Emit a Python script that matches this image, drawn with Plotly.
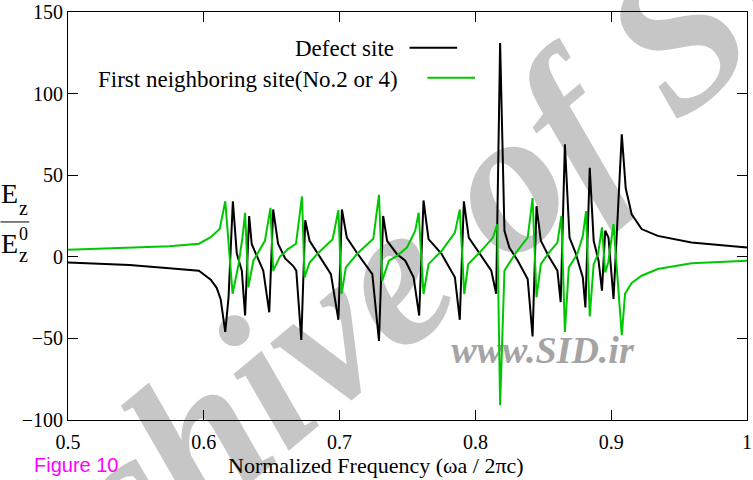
import plotly.graph_objects as go

# ---- data ----
defect_x = [0.5, 0.5453, 0.5745, 0.5964, 0.6051, 0.6095, 0.6124, 0.6158, 0.6182, 0.6214,
            0.6243, 0.6280, 0.6304, 0.6334, 0.6353, 0.6401, 0.6438, 0.6482, 0.6511, 0.6547,
            0.6599, 0.6657, 0.6681, 0.6718, 0.6747, 0.6779, 0.6839, 0.6936, 0.6991, 0.7017,
            0.7053, 0.7131, 0.7241, 0.7290, 0.7321, 0.7350, 0.7423, 0.7484, 0.7545, 0.7586,
            0.7618, 0.7655, 0.7752, 0.7849, 0.7885, 0.7915, 0.7951, 0.8031, 0.8117, 0.8153,
            0.8182, 0.8214, 0.8250, 0.8312, 0.8385, 0.8421, 0.8450, 0.8482, 0.8542, 0.8604,
            0.8628, 0.8659, 0.8693, 0.8737, 0.8791, 0.8810, 0.8842, 0.8871, 0.8907, 0.8932,
            0.8956, 0.8980, 0.9017, 0.9078, 0.9107, 0.9151, 0.9224, 0.9343, 0.9591, 1.0]
defect_y = [-3.5, -5, -7, -8.5, -14, -19, -26, -46, -25, 34,
            2, -8.5, -36, 25, 7.7, -2, -8.5, -34, 29, 8,
            -1, -5.5, -8.5, -51, 22.4, 9.8, 2, -10.6, -38.6, 29,
            11.8, 2, -10.6, -51.6, 25, 9.8, 1.6, -2.4, -12.6, -36,
            34.5, 10.8, 1.6, -12.6, -38.6, 34, 11.8, 2, -8.5, -22.6,
            131, 15.9, 5.7, -2.4, -13.6, -48.8, 31, 9.8, 0, -8.5,
            -27.8, 69, 11.8, 2.6, -12.6, -31, 54.5, 9.8, -2.4, -20.7,
            16, 11.8, -25.8, 75, 42, 26, 17, 12.8, 8.7, 5.7]

neighbor_x = [0.5, 0.5453, 0.5745, 0.5964, 0.6051, 0.6117, 0.6158, 0.6212, 0.6255, 0.6285,
              0.6304, 0.6328, 0.6365, 0.6450, 0.6491, 0.6511, 0.6560, 0.6620, 0.6679, 0.6723,
              0.6742, 0.6779, 0.6839, 0.6949, 0.6991, 0.7015, 0.7046, 0.7131, 0.7248, 0.7290,
              0.7314, 0.7363, 0.7423, 0.7496, 0.7557, 0.7582, 0.7618, 0.7655, 0.7752, 0.7849,
              0.7885, 0.7918, 0.7947, 0.8031, 0.8129, 0.8161, 0.8182, 0.8214, 0.8299, 0.8385,
              0.8421, 0.8450, 0.8482, 0.8542, 0.8604, 0.8633, 0.8659, 0.8688, 0.8750, 0.8791,
              0.8815, 0.8842, 0.8871, 0.8903, 0.8932, 0.8956, 0.8978, 0.9017, 0.9078, 0.9102,
              0.9151, 0.9224, 0.9343, 0.9591, 1.0]
neighbor_y = [4.3, 5.5, 6.5, 8, 12, 17, 34, -22.6, -5, 12,
              27, -18.7, -2.4, 9.8, 30, -8.5, 0, 4.7, 8, 37,
              -12.6, -3.5, 2, 10.8, 28.7, -22.7, -6.5, 2, 11, 38,
              -14.6, -2.4, 0.6, 5.7, 16, 27, -22.8, -4.5, 3.7, 14.8,
              29, -22.8, -4.5, 2.6, 11.8, 20, -91, -8.5, 2.6, 11.8,
              36, -24.8, -4.5, 2.6, 8.7, 25, -46, -6.5, 1.6, 12.8,
              28, -36.6, -4.5, 1.6, 18, -9.6, -3.5, 20, -48, -22.6,
              -16, -11.6, -7.5, -4, -2.4]

x_ticks = [0.5, 0.6, 0.7, 0.8, 0.9, 1.0]
x_tick_labels = ["0.5", "0.6", "0.7", "0.8", "0.9", "1"]
y_ticks = [-100, -50, 0, 50, 100, 150]

# ---- layout geometry (pixels) ----
W, H = 753, 480
L, R, T, B = 68, 1, 10, 60
PW, PH = W - L - R, H - T - B


def P(px, py):
    return (px - L) / PW, (H - B - py) / PH


SERIF = "Liberation Serif"
GREEN = "#00c800"

fig = go.Figure()
fig.add_trace(go.Scatter(x=defect_x, y=defect_y, mode="lines",
                         line=dict(color="black", width=2), showlegend=False))
fig.add_trace(go.Scatter(x=neighbor_x, y=neighbor_y, mode="lines",
                         line=dict(color=GREEN, width=2), showlegend=False))

shapes = []
# watermark (below traces)
cx, cy = P(394, 244)
shapes.append(dict(type="line", xref="paper", yref="paper", layer="below",
                   x0=cx - 0.05, x1=cx + 0.05, y0=cy - 0.07, y1=cy + 0.07,
                   line=dict(width=0, color="rgba(0,0,0,0)"),
                   label=dict(text="<b><i>Archive of SID</i></b>", textangle=-40,
                              textposition="middle", xanchor="center", yanchor="middle",
                              font=dict(family=SERIF, size=205, color="#c6c6c6"))))
wx, wy = P(546, 346)
shapes.append(dict(type="line", xref="paper", yref="paper", layer="below",
                   x0=wx - 0.05, x1=wx + 0.05, y0=wy, y1=wy,
                   line=dict(width=0, color="rgba(0,0,0,0)"),
                   label=dict(text="<b><i>www.SID.ir</i></b>", textangle=0,
                              textposition="middle", xanchor="center", yanchor="middle",
                              font=dict(family=SERIF, size=38, color="#a4a4a4"))))
# legend sample lines
x0, y0 = P(412, 46); x1, _ = P(460, 46)
shapes.append(dict(type="line", xref="paper", yref="paper", x0=x0, x1=x1, y0=y0, y1=y0,
                   line=dict(color="black", width=2)))
x0, y0 = P(430, 76); x1, _ = P(478, 76)
shapes.append(dict(type="line", xref="paper", yref="paper", x0=x0, x1=x1, y0=y0, y1=y0,
                   line=dict(color=GREEN, width=2)))
# fraction bar of the y label
x0, y0 = P(0, 221); x1, _ = P(29, 221)
shapes.append(dict(type="line", xref="paper", yref="paper", x0=x0, x1=x1, y0=y0, y1=y0,
                   line=dict(color="black", width=1)))

ann = []


def A(text, px, py, size, xanchor="center", family=SERIF, color="black"):
    x, y = P(px, py)
    ann.append(dict(text=text, x=x, y=y, xref="paper", yref="paper", showarrow=False,
                    xanchor=xanchor, yanchor="middle",
                    font=dict(family=family, size=size, color=color)))


A("Defect site", 398, 47, 23, xanchor="right")
A("First neighboring site(No.2 or 4)", 402, 78, 23, xanchor="right")
A("Normalized Frequency (ωa / 2πc)", 378, 466, 22)
A("Figure 10", 77, 465, 20, family="Liberation Sans", color="#ff00ff")
# y label E_z / E_z^0
A("E", 9, 192, 28)
A("z", 23, 207, 20)
A("E", 9, 243, 28)
A("0", 23, 233, 18)
A("z", 23, 254, 20)

axis_common = dict(showline=True, linecolor="black", linewidth=1, mirror="allticks",
                   ticks="inside", ticklen=10, tickcolor="black", showgrid=False,
                   zeroline=False, ticklabeloverflow="allow",
                   tickfont=dict(family=SERIF, size=20, color="black"))

fig.update_layout(
    width=W, height=H, margin=dict(l=L, r=R, t=T, b=B),
    paper_bgcolor="white", plot_bgcolor="rgba(0,0,0,0)",
    shapes=shapes, annotations=ann, showlegend=False,
    xaxis=dict(range=[0.5, 1.0], tickvals=x_ticks, ticktext=x_tick_labels,
               ticklabelstandoff=4, **axis_common),
    yaxis=dict(range=[-100, 150], tickvals=y_ticks, **axis_common),
)

fig.write_html("out.html", config={"displayModeBar": False},
               post_script="document.body.style.margin='0px';")
